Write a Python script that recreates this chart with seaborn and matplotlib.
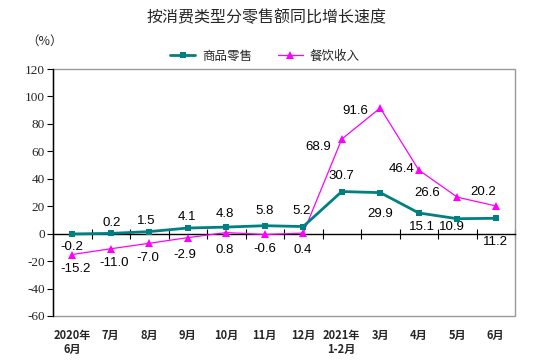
import numpy as np
import pandas as pd
import matplotlib
matplotlib.use("Agg")
import matplotlib.pyplot as plt
import seaborn as sns
from matplotlib.patches import Rectangle
from matplotlib.font_manager import FontProperties

categories = ["2020年\n6月", "7月", "8月", "9月", "10月", "11月", "12月",
              "2021年\n1-2月", "3月", "4月", "5月", "6月"]
retail = [-0.2, 0.2, 1.5, 4.1, 4.8, 5.8, 5.2, 30.7, 29.9, 15.1, 10.9, 11.2]
catering = [-15.2, -11.0, -7.0, -2.9, 0.8, -0.6, 0.4, 68.9, 91.6, 46.4, 26.6, 20.2]
series_names = ["商品零售", "餐饮收入"]
yticks = [-60, -40, -20, 0, 20, 40, 60, 80, 100, 120]
title = "按消费类型分零售额同比增长速度"
unit = "（%）"

# label offsets in pixels (dx, dy up)
retail_off = [(0, -13), (1, 10), (-3, 11), (-1, 11), (-1, 13), (0, 15), (-2, 16),
              (0, 16), (0, -21), (3, -14), (-5, -8), (0, -24)]
catering_off = [(3, -14), (3, -14), (-1, -15), (-3, -17), (-2, -17), (0, -15), (-1, -17),
                (-24, -8), (-25, -3), (-17, 1), (-30, 4), (-13, 14)]

sns.set_style("white")
plt.rcParams['font.family'] = ['Noto Sans CJK SC', 'DejaVu Sans']

W, H = 533, 364
fig = plt.figure(figsize=(W / 100, H / 100), dpi=100)
ax = fig.add_axes([53 / W, 1 - 316 / H, (515 - 53) / W, (316 - 69) / H])

x = np.arange(len(categories))
df = pd.DataFrame({"x": np.concatenate([x, x]),
                   "v": retail + catering,
                   "s": [series_names[0]] * len(x) + [series_names[1]] * len(x)})

teal = "#008080"
mag = "#FF00FF"
sns.lineplot(data=df[df.s == series_names[1]], x="x", y="v", ax=ax, color=mag,
             marker="^", markersize=6, linewidth=0.9, markeredgewidth=0,
             label=series_names[1], zorder=3)
sns.lineplot(data=df[df.s == series_names[0]], x="x", y="v", ax=ax, color=teal,
             marker="s", markersize=5, linewidth=2.0, markeredgewidth=0,
             label=series_names[0], zorder=4)

ax.set_xlim(-0.5, len(categories) - 0.5)
ax.set_ylim(yticks[0], yticks[-1])
ax.set_xlabel("")
ax.set_ylabel("")

# frame
for s in ["top", "right"]:
    ax.spines[s].set_visible(False)
ax.add_patch(Rectangle((0, 0), 1, 1, transform=ax.transAxes, fill=False,
                       edgecolor="#999999", linewidth=1.0, zorder=1, clip_on=False))
ax.spines["left"].set_color("black")
ax.spines["left"].set_linewidth(1.0)
ax.spines["left"].set_zorder(5)
ax.spines["bottom"].set_position(("data", 0))
ax.spines["bottom"].set_color("black")
ax.spines["bottom"].set_linewidth(1.0)

# y ticks
serif = FontProperties(family="Liberation Serif", size=9.5)
ax.set_yticks(yticks)
ax.set_yticklabels([str(v) for v in yticks])
for t in ax.get_yticklabels():
    t.set_fontproperties(serif)
ax.tick_params(axis="y", direction="out", length=4, width=0.8, color="black", pad=2, left=True)

# x ticks: boundaries on zero line, labels at centers at bottom
bounds = np.arange(len(categories) + 1) - 0.5
ax.set_xticks(bounds)
ax.set_xticklabels([""] * len(bounds))
ax.tick_params(axis="x", which="major", direction="inout", length=7, width=0.8,
               color="black", bottom=True)
ax.set_xticks(x, minor=True)
ax.set_xticklabels(categories, minor=True, fontsize=8, fontweight="bold",
                   linespacing=1.1, va="top")
ax.tick_params(axis="x", which="minor", length=0, pad=68.5)

# data labels
px = 72 / 100.0
for i, v in enumerate(retail):
    dx, dy = retail_off[i]
    ax.annotate(f"{v:.1f}", (x[i], v), xytext=(dx * px, dy * px), textcoords="offset points",
                ha="center", va="center", fontsize=9.5, family="Liberation Sans", color="black")
for i, v in enumerate(catering):
    dx, dy = catering_off[i]
    ax.annotate(f"{v:.1f}", (x[i], v), xytext=(dx * px, dy * px), textcoords="offset points",
                ha="center", va="center", fontsize=9.5, family="Liberation Sans", color="black")

# legend
h, l = ax.get_legend_handles_labels()
order = [l.index(series_names[0]), l.index(series_names[1])]
ax.legend([h[k] for k in order], [l[k] for k in order], ncol=2, frameon=False,
          loc="center", bbox_to_anchor=(265 / W, 1 - 56 / H), bbox_transform=fig.transFigure,
          fontsize=9, handlelength=2.0, handletextpad=0.6, columnspacing=2.0)

fig.text(267 / W, 1 - 18 / H, title, ha="center", va="center", fontsize=11.5)
fig.text(45 / W, 1 - 41 / H, unit, ha="center", va="center", fontsize=9)

fig.savefig("out.png", dpi=100)
